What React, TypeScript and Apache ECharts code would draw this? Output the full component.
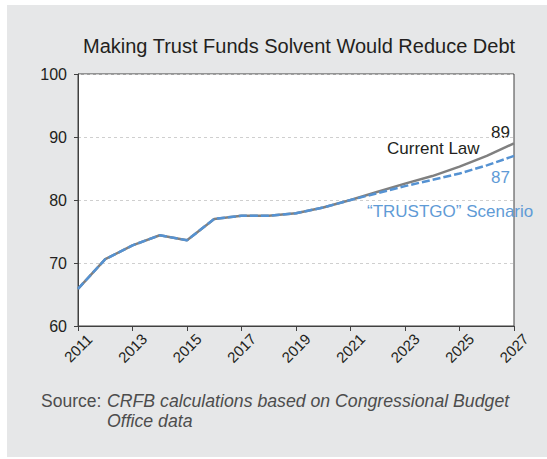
import React, { useEffect, useRef } from "react";
import * as echarts from "echarts";

const years = ["2011","2012","2013","2014","2015","2016","2017","2018","2019","2020","2021","2022","2023","2024","2025","2026","2027"];
const currentLaw = [65.9, 70.6, 72.8, 74.4, 73.6, 77.0, 77.5, 77.5, 77.9, 78.8, 80.0, 81.3, 82.6, 83.8, 85.3, 87.0, 89.0];
const trustgo = [65.9, 70.6, 72.8, 74.4, 73.6, 77.0, 77.5, 77.5, 77.9, 78.8, 80.0, 81.1, 82.2, 83.2, 84.2, 85.5, 87.0];
const yTicks = { min: 60, max: 100, interval: 10 };

const FONT = "'Liberation Sans', Arial, Helvetica, sans-serif";
const GRAY = "#808080";
const BLUE = "#5592d2";
const BLUE_TEXT = "#5f9bd6";
const TXT = "#231f20";
const SRC = "#4d4d4d";

export default function App() {
  const ref = useRef<HTMLDivElement>(null);
  useEffect(() => {
    document.body.style.margin = "0";
    const chart = echarts.init(ref.current!, null, { renderer: "svg" });
    chart.setOption({
      animation: false,
      backgroundColor: "transparent",
      textStyle: { fontFamily: FONT },
      grid: {
        left: 78, right: 33, top: 74, bottom: 133,
        show: true, backgroundColor: "#ffffff", borderColor: "#404040", borderWidth: 1,
        containLabel: false,
      },
      xAxis: {
        type: "category",
        data: years,
        boundaryGap: false,
        axisLine: { show: true, lineStyle: { color: "#404040", width: 1 } },
        axisTick: { show: true, interval: 1, length: 5, lineStyle: { color: "#404040" } },
        axisLabel: {
          interval: 1, rotate: 45, align: "center", verticalAlign: "middle", margin: 22,
          fontSize: 15, color: TXT, fontFamily: FONT,
        },
        splitLine: { show: false },
      },
      yAxis: {
        type: "value",
        min: yTicks.min, max: yTicks.max, interval: yTicks.interval,
        axisLine: { show: true, lineStyle: { color: "#404040", width: 1 } },
        axisTick: { show: true, length: 4, lineStyle: { color: "#404040" } },
        axisLabel: { fontSize: 16, color: TXT, margin: 11, fontFamily: FONT },
        splitLine: { show: true, lineStyle: { color: "#cfcfcf", type: [3, 3], width: 1 } },
      },
      series: [
        {
          name: "Current Law", type: "line", data: currentLaw, symbol: "none",
          lineStyle: { color: GRAY, width: 2.5 }, z: 2,
        },
        {
          name: "TRUSTGO", type: "line", data: trustgo, symbol: "none",
          lineStyle: { color: BLUE, width: 2.5, type: [8, 3] }, z: 3,
        },
      ],
      graphic: [
        { type: "text", left: 83, top: 36, style: { text: "Making Trust Funds Solvent Would Reduce Debt", font: `20px ${FONT}`, fill: TXT } },
        { type: "text", x: 387, y: 148, style: { text: "Current Law", font: `17px ${FONT}`, fill: TXT, textVerticalAlign: "middle", textAlign: "left" } },
        { type: "text", x: 510, y: 132, style: { text: "89", font: `17px ${FONT}`, fill: TXT, textVerticalAlign: "middle", textAlign: "right" } },
        { type: "text", x: 510, y: 177, style: { text: "87", font: `17px ${FONT}`, fill: BLUE_TEXT, textVerticalAlign: "middle", textAlign: "right" } },
        { type: "text", x: 367, y: 211, style: { text: "\u201CTRUSTGO\u201D Scenario", font: `17px ${FONT}`, fill: BLUE_TEXT, textVerticalAlign: "middle", textAlign: "left" } },
        { type: "text", x: 41, y: 401, style: { text: "Source:", font: `17.5px ${FONT}`, fill: SRC, textVerticalAlign: "middle", textAlign: "left" } },
        { type: "text", x: 107, y: 401, style: { text: "CRFB calculations based on Congressional Budget", font: `italic 17.7px ${FONT}`, fill: SRC, textVerticalAlign: "middle", textAlign: "left" } },
        { type: "text", x: 107, y: 421, style: { text: "Office data", font: `italic 17.7px ${FONT}`, fill: SRC, textVerticalAlign: "middle", textAlign: "left" } },
      ],
    });
    return () => chart.dispose();
  }, []);
  return (
    <div style={{ position: "relative", width: 547, height: 459, background: "#ffffff", overflow: "hidden" }}>
      <div style={{ position: "absolute", left: 7, top: 5, width: 540, height: 452, background: "#e6e7e8" }} />
      <div ref={ref} style={{ position: "absolute", left: 0, top: 0, width: 547, height: 459 }} />
    </div>
  );
}
